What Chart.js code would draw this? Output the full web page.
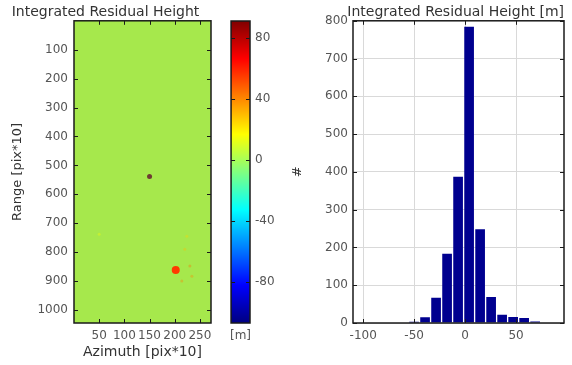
<!DOCTYPE html>
<html>
<head>
<meta charset="utf-8">
<script src="https://cdn.jsdelivr.net/npm/chart.js@4.4.0/dist/chart.umd.min.js"></script>
<style>
body { margin: 0; background: #fff; }
#wrap { position: relative; width: 572px; height: 365px; overflow: hidden; }
.box { position: absolute; top: 0; height: 365px; }
</style>
</head>
<body>
<div id="wrap">
  <div class="box" style="left:0;width:285px"><canvas id="residualImage"></canvas></div>
  <div class="box" style="left:219px;width:80px"><canvas id="colorBar"></canvas></div>
  <div class="box" style="left:290px;width:282px"><canvas id="residualHist"></canvas></div>
</div>
<script>
// left panel: residual height image [pix*10]
var azimuthTicks = [50, 100, 150, 200, 250];
var rangeTicks = [100, 200, 300, 400, 500, 600, 700, 800, 900, 1000];
var spotAzimuth = [150, 202];
var spotRange = [538, 862];
var spotHeight = [88, 55];
var streakAzimuth = [230, 234, 214, 220, 224, 50];
var streakRange = [848, 883, 900, 790, 745, 738];
var streakHeight = [45, 40, 42, 30, 25, 15];

// colorbar [m]
var colorLimits = [-107, 91];
var colorTicks = [-80, -40, 0, 40, 80];

// right panel: histogram of residual height
var binCenters = [-104.1, -93.3, -82.5, -71.7, -60.9, -50.1, -39.3, -28.5, -17.7, -6.9, 3.9, 14.7, 25.5, 36.3, 47.1, 57.9, 68.7, 79.5, 90.3];
var binCounts = [1, 0, 0, 0, 0, 3, 15, 67, 183, 387, 784, 248, 69, 22, 16, 13, 4, 1, 1];
var histXTicks = [-100, -50, 0, 50];
var histYTicks = [0, 100, 200, 300, 400, 500, 600, 700, 800];

Chart.defaults.font.family = "'DejaVu Sans', sans-serif";
Chart.defaults.animation = false;

var tickColor = '#555';
var textColor = '#333';

function clamp(v) { return Math.max(0, Math.min(1, v)); }
function jet(v, alpha) {
  var t = clamp((v - colorLimits[0]) / (colorLimits[1] - colorLimits[0]));
  var r = clamp(1.5 - Math.abs(4 * t - 3));
  var g = clamp(1.5 - Math.abs(4 * t - 2));
  var b = clamp(1.5 - Math.abs(4 * t - 1));
  return 'rgba(' + Math.round(r * 255) + ',' + Math.round(g * 255) + ',' + Math.round(b * 255) + ',' + (alpha == null ? 1 : alpha) + ')';
}
function fixTicks(list) {
  return function(scale) { scale.ticks = list.map(function(v) { return { value: v }; }); };
}
function plain(v) { return String(v); }

// black box with inward tick marks, like matlab axes
var framePlugin = {
  id: 'frame',
  afterDraw: function(chart, args, opts) {
    var ctx = chart.ctx, a = chart.chartArea;
    ctx.save();
    ctx.strokeStyle = '#1a1a1a';
    ctx.lineWidth = 1.5;
    ctx.strokeRect(a.left, a.top, a.right - a.left, a.bottom - a.top);
    ctx.lineWidth = 1;
    ctx.beginPath();
    if (opts.xTicks !== false) {
      chart.scales.x.ticks.forEach(function(t) {
        var px = Math.round(chart.scales.x.getPixelForValue(t.value)) + 0.5;
        ctx.moveTo(px, a.top); ctx.lineTo(px, a.top + 4);
        ctx.moveTo(px, a.bottom); ctx.lineTo(px, a.bottom - 4);
      });
    }
    chart.scales.y.ticks.forEach(function(t) {
      var py = Math.round(chart.scales.y.getPixelForValue(t.value)) + 0.5;
      ctx.moveTo(a.left, py); ctx.lineTo(a.left + 4, py);
      ctx.moveTo(a.right, py); ctx.lineTo(a.right - 4, py);
    });
    ctx.stroke();
    ctx.restore();
  }
};

var imageFillPlugin = {
  id: 'imageFill',
  beforeDatasetsDraw: function(chart, args, opts) {
    var a = chart.chartArea;
    chart.ctx.save();
    chart.ctx.fillStyle = opts.color;
    chart.ctx.fillRect(a.left, a.top, a.right - a.left, a.bottom - a.top);
    chart.ctx.restore();
  }
};

var imageCtx = document.getElementById('residualImage');
var graphImage = new Chart(imageCtx, {
  type: 'scatter',
  data: {
    datasets: [
      {
        data: streakAzimuth.map(function(v, i) { return { x: v, y: streakRange[i] }; }),
        pointRadius: 1.5,
        pointBorderWidth: 0,
        pointBackgroundColor: streakHeight.map(function(h) { return jet(h, 0.35); })
      },
      {
        data: spotAzimuth.map(function(v, i) { return { x: v, y: spotRange[i] }; }),
        pointRadius: [2.5, 4],
        pointBorderWidth: 0,
        pointBackgroundColor: spotHeight.map(function(h, i) { return i == 0 ? 'rgb(110,60,50)' : jet(h); })
      }
    ]
  },
  options: {
    responsive: true,
    maintainAspectRatio: false,
    layout: { padding: { right: 74 } },
    plugins: {
      legend: { display: false },
      tooltip: { enabled: false },
      imageFill: { color: 'rgb(166,232,76)' },
      title: {
        display: true,
        text: 'Integrated Residual Height',
        color: textColor,
        font: { size: 14, weight: 'normal' },
        padding: { top: 4, bottom: 0 }
      }
    },
    scales: {
      x: {
        type: 'linear', min: 0, max: 272,
        afterBuildTicks: fixTicks(azimuthTicks),
        afterFit: function(s) { s.height = 42; },
        grid: { display: false, drawTicks: false },
        border: { display: false },
        ticks: { padding: 6, color: tickColor, font: { size: 12 }, callback: plain },
        title: { display: true, text: 'Azimuth [pix*10]', color: textColor, font: { size: 14 }, padding: { top: 0, bottom: 4 } }
      },
      y: {
        type: 'linear', min: 0, max: 1045, reverse: true,
        afterBuildTicks: fixTicks(rangeTicks),
        afterFit: function(s) { s.width = 74; },
        grid: { display: false, drawTicks: false },
        border: { display: false },
        ticks: { padding: 6, color: tickColor, font: { size: 12 }, callback: plain },
        title: { display: true, text: 'Range [pix*10]', color: textColor, font: { size: 13 }, padding: { top: 10, bottom: 0 } }
      }
    }
  },
  plugins: [imageFillPlugin, framePlugin]
});

var barCtx = document.getElementById('colorBar');
var graphColorBar = new Chart(barCtx, {
  type: 'bar',
  data: {
    labels: ['[m]'],
    datasets: [{
      data: [colorLimits],
      barPercentage: 1,
      categoryPercentage: 1,
      borderWidth: 0,
      backgroundColor: function(c) {
        var chart = c.chart;
        if (!chart.chartArea) return '#888';
        var y = chart.scales.y;
        var g = chart.ctx.createLinearGradient(0, y.getPixelForValue(colorLimits[0]), 0, y.getPixelForValue(colorLimits[1]));
        for (var i = 0; i <= 16; i++) {
          var v = colorLimits[0] + (colorLimits[1] - colorLimits[0]) * i / 16;
          g.addColorStop(i / 16, jet(v));
        }
        return g;
      }
    }]
  },
  options: {
    responsive: true,
    maintainAspectRatio: false,
    layout: { padding: { top: 21, left: 10 } },
    plugins: {
      legend: { display: false },
      tooltip: { enabled: false },
      frame: { xTicks: false }
    },
    scales: {
      x: {
        afterFit: function(s) { s.height = 42; },
        grid: { display: false, drawTicks: false },
        border: { display: false },
        ticks: { padding: 6, color: tickColor, font: { size: 12 } }
      },
      y: {
        position: 'right',
        min: colorLimits[0], max: colorLimits[1],
        afterBuildTicks: fixTicks(colorTicks),
        afterFit: function(s) { s.width = 49; },
        grid: { display: false, drawTicks: false },
        border: { display: false },
        ticks: { padding: 5, color: tickColor, font: { size: 12 }, callback: plain }
      }
    }
  },
  plugins: [framePlugin]
});

var histCtx = document.getElementById('residualHist');
var graphHist = new Chart(histCtx, {
  type: 'bar',
  data: {
    datasets: [{
      data: binCenters.map(function(c, i) { return { x: c, y: binCounts[i] }; }),
      backgroundColor: '#00008f',
      borderWidth: 0,
      barPercentage: 0.88,
      categoryPercentage: 1
    }]
  },
  options: {
    responsive: true,
    maintainAspectRatio: false,
    layout: { padding: { right: 8 } },
    plugins: {
      legend: { display: false },
      tooltip: { enabled: false },
      title: {
        display: true,
        text: 'Integrated Residual Height [m]',
        align: 'end',
        color: textColor,
        font: { size: 14, weight: 'normal' },
        padding: { top: 4, bottom: 0 }
      }
    },
    scales: {
      x: {
        type: 'linear', min: -110, max: 97, offset: false,
        afterBuildTicks: fixTicks(histXTicks),
        afterFit: function(s) { s.height = 42; },
        grid: { color: '#d9d9d9', drawTicks: false, offset: false },
        border: { display: false },
        ticks: { padding: 6, color: tickColor, font: { size: 12 }, callback: plain }
      },
      y: {
        min: 0, max: 800,
        afterBuildTicks: fixTicks(histYTicks),
        afterFit: function(s) { s.width = 63; },
        grid: { color: '#d9d9d9', drawTicks: false },
        border: { display: false },
        ticks: { padding: 5, color: tickColor, font: { size: 12 }, callback: plain },
        title: { display: true, text: '#', color: textColor, font: { size: 13 }, padding: { top: 0, bottom: 0 } }
      }
    }
  },
  plugins: [framePlugin]
});
</script>
</body>
</html>
